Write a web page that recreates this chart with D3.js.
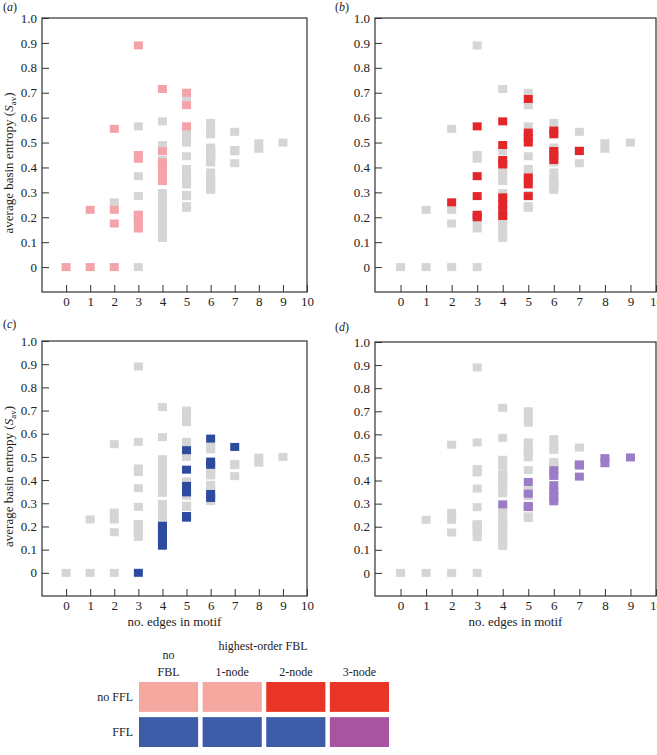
<!DOCTYPE html>
<html><head><meta charset="utf-8">
<script src="https://cdn.jsdelivr.net/npm/d3@7"></script>
<style>
html,body{margin:0;padding:0;background:#fff;}
svg text{font-family:"Liberation Serif","Times New Roman",serif;fill:#222;}
</style></head>
<body>
<svg id="chart" width="657" height="755"></svg>
<script>
// ---- data: [edges in motif, average basin entropy] per motif class ----
const pinkPts = [[0,0],[1,0],[1,0.23],[2,0],[2,0.175],[2,0.23],[2,0.555],
  [3,0.155],[3,0.175],[3,0.195],[3,0.21],[3,0.435],[3,0.45],[3,0.89],
  [4,0.345],[4,0.37],[4,0.395],[4,0.42],[4,0.465],[4,0.715],
  [5,0.565],[5,0.65],[5,0.70]];
const redPts = [[2,0.26],[3,0.2],[3,0.21],[3,0.285],[3,0.365],[3,0.565],
  [4,0.205],[4,0.23],[4,0.255],[4,0.28],[4,0.412],[4,0.43],[4,0.49],[4,0.585],
  [5,0.285],[5,0.332],[5,0.36],[5,0.50],[5,0.52],[5,0.54],[5,0.675],
  [6,0.43],[6,0.45],[6,0.466],[6,0.533],[6,0.548],[7,0.466]];
const bluePts = [[3,0],[4,0.117],[4,0.14],[4,0.165],[4,0.19],[4,0.203],
  [5,0.238],[5,0.245],[5,0.347],[5,0.375],[5,0.445],[5,0.529],
  [6,0.323],[6,0.34],[6,0.466],[6,0.48],[6,0.579],[7,0.543]];
const purplePts = [[4,0.297],[5,0.285],[5,0.29],[5,0.343],[5,0.394],
  [6,0.31],[6,0.33],[6,0.355],[6,0.38],[6,0.42],[6,0.445],
  [7,0.417],[7,0.465],[7,0.47],[8,0.475],[8,0.497],[9,0.50]];
const xTicks = [0,1,2,3,4,5,6,7,8,9,10];
const yTicks = [0,0.1,0.2,0.3,0.4,0.5,0.6,0.7,0.8,0.9,1.0];
const legendCols = ["FBL","1-node","2-node","3-node"];
const legendRows = ["no FFL","FFL"];

const colors = {grey:"#d5d5d5", pink:"#f4a3a9", red:"#e32629", blue:"#2c4b9e", purple:"#9c7cc6"};
const legendColors = [["#f4a8a0","#f4a8a0","#e93525","#e93525"],
                      ["#3f5ca8","#3f5ca8","#3f5ca8","#a855a0"]];

const allPts = [...pinkPts.map(p=>({x:p[0],y:p[1],c:"pink"})),
                ...redPts.map(p=>({x:p[0],y:p[1],c:"red"})),
                ...bluePts.map(p=>({x:p[0],y:p[1],c:"blue"})),
                ...purplePts.map(p=>({x:p[0],y:p[1],c:"purple"}))];

const panels = [
  {id:"a", left:42, right:307, top:18, bottom:292, cat:"pink", ylab:true, xlab:false, lx:3, ly:11},
  {id:"b", left:375, right:656, top:18, bottom:292, cat:"red", ylab:false, xlab:false, lx:335, ly:11},
  {id:"c", left:42, right:307, top:341, bottom:596, cat:"blue", ylab:true, xlab:true, lx:3, ly:328},
  {id:"d", left:375, right:656, top:342, bottom:596, cat:"purple", ylab:false, xlab:true, lx:335, ly:331}
];

const svg = d3.select("#chart");
const mw = 9, mh = 8;
const yfmt = d => d === 0 ? "0" : d3.format(".1f")(d);

panels.forEach(p => {
  const x = d3.scaleLinear().domain([-1,10]).range([p.left,p.right]);
  const y = d3.scaleLinear().domain([-0.1,1.0]).range([p.bottom,p.top]);
  const g = svg.append("g");

  // markers: grey first, then highlighted class
  const grey = allPts.filter(d => d.c !== p.cat);
  const hi = allPts.filter(d => d.c === p.cat);
  g.selectAll("rect.g").data(grey).enter().append("rect")
    .attr("x", d => x(d.x)-mw/2).attr("y", d => y(d.y)-mh/2)
    .attr("width", mw).attr("height", mh).attr("fill", colors.grey);
  g.selectAll("rect.h").data(hi).enter().append("rect")
    .attr("x", d => x(d.x)-mw/2).attr("y", d => y(d.y)-mh/2)
    .attr("width", mw).attr("height", mh).attr("fill", colors[p.cat]);

  // axes (ticks pointing inward)
  const xa = g.append("g").attr("transform", `translate(0,${p.bottom})`)
    .call(d3.axisBottom(x).tickValues(xTicks).tickSize(-7).tickPadding(5).tickFormat(d3.format("d")));
  const ya = g.append("g").attr("transform", `translate(${p.left},0)`)
    .call(d3.axisLeft(y).tickValues(yTicks).tickSize(-7).tickPadding(5).tickFormat(yfmt));
  [xa, ya].forEach(a => {
    a.attr("font-family", null);
    a.select(".domain").remove();
    a.selectAll("line").attr("stroke","#333").attr("stroke-width",1);
    a.selectAll("text").attr("font-size",13).attr("font-family","Liberation Serif, serif").attr("fill","#222");
  });

  // frame
  g.append("rect").attr("x",p.left).attr("y",p.top)
    .attr("width",p.right-p.left).attr("height",p.bottom-p.top)
    .attr("fill","none").attr("stroke","#333").attr("stroke-width",1.2);

  // panel label
  const t = g.append("text").attr("x",p.lx).attr("y",p.ly).attr("font-size",12);
  t.append("tspan").text("(");
  t.append("tspan").attr("font-style","italic").text(p.id);
  t.append("tspan").text(")");

  if (p.ylab) {
    const cy = (p.top+p.bottom)/2 + 8;
    const yl = g.append("text").attr("transform",`translate(13,${cy}) rotate(-90)`)
      .attr("text-anchor","middle").attr("font-size",13);
    yl.append("tspan").text("average basin entropy (");
    yl.append("tspan").attr("font-style","italic").text("S");
    yl.append("tspan").attr("font-size",9).attr("dy",3).text("av");
    yl.append("tspan").attr("dy",-3).text(")");
  }
  if (p.xlab) {
    g.append("text").attr("x",(p.left+p.right)/2).attr("y",p.bottom+30)
      .attr("text-anchor","middle").attr("font-size",13).text("no. edges in motif");
  }
});

// ---- legend ----
const lg = svg.append("g");
const bx = d3.scaleBand().domain(d3.range(4)).range([139,389]).paddingInner(0.07).paddingOuter(0);
const by = d3.scaleBand().domain(d3.range(2)).range([682,747]).paddingInner(0.15).paddingOuter(0);
lg.append("text").attr("x",263).attr("y",650).attr("text-anchor","middle").attr("font-size",12).text("highest-order FBL");
lg.append("text").attr("x",bx(0)+bx.bandwidth()/2).attr("y",659).attr("text-anchor","middle").attr("font-size",12).text("no");
legendCols.forEach((c,i) => {
  lg.append("text").attr("x",bx(i)+bx.bandwidth()/2).attr("y",676).attr("text-anchor","middle").attr("font-size",12).text(c);
});
legendRows.forEach((r,j) => {
  lg.append("text").attr("x",133).attr("y",by(j)+by.bandwidth()/2+4).attr("text-anchor","end").attr("font-size",12).text(r);
  legendColors[j].forEach((col,i) => {
    lg.append("rect").attr("x",bx(i)).attr("y",by(j)).attr("width",bx.bandwidth()).attr("height",by.bandwidth()).attr("fill",col);
  });
});
</script>
</body></html>
